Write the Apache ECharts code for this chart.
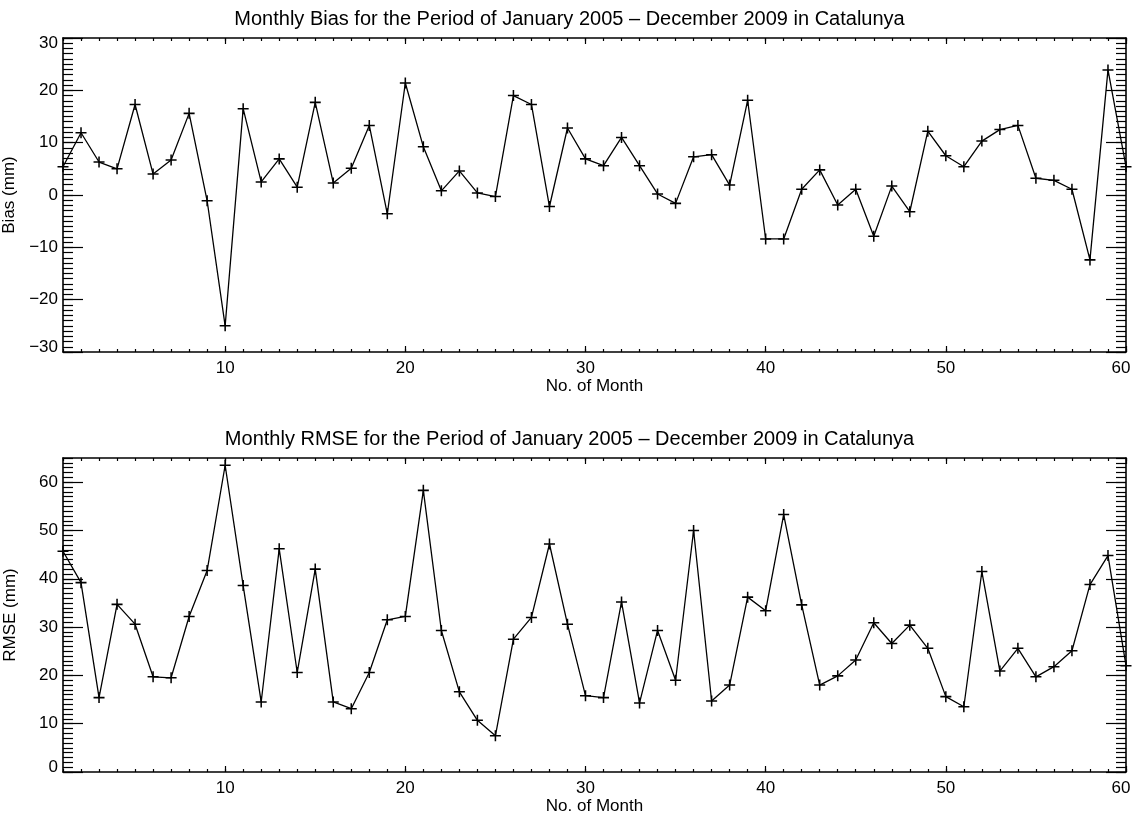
<!DOCTYPE html>
<html><head><meta charset="utf-8">
<script src="https://cdn.jsdelivr.net/npm/echarts@6/dist/echarts.min.js"></script>
<style>html,body{margin:0;padding:0;background:#fff}#c{width:1139px;height:817px}</style>
</head><body><div id="c"></div>
<script>
const months = [1,2,3,4,5,6,7,8,9,10,11,12,13,14,15,16,17,18,19,20,21,22,23,24,25,26,27,28,29,30,31,32,33,34,35,36,37,38,39,40,41,42,43,44,45,46,47,48,49,50,51,52,53,54,55,56,57,58,59,60];
const bias = [5.4,11.9,6.3,5.0,17.3,4.0,6.7,15.6,-1.1,-25.0,16.5,2.5,6.9,1.5,17.7,2.3,5.1,13.3,-3.6,21.4,9.2,0.8,4.6,0.4,-0.3,19.0,17.3,-2.2,12.8,6.9,5.6,11.0,5.6,0.2,-1.6,7.3,7.7,1.9,18.1,-8.4,-8.4,1.1,4.8,-1.9,1.1,-7.9,1.7,-3.2,12.2,7.5,5.4,10.3,12.5,13.3,3.2,2.8,1.1,-12.4,23.9,5.4];
const rmse = [45.7,39.2,15.4,34.7,30.6,19.7,19.5,32.2,41.7,63.5,38.6,14.5,46.2,20.6,42.0,14.5,13.1,20.6,31.5,32.2,58.3,29.3,16.6,10.7,7.5,27.5,32.0,47.2,30.6,15.8,15.4,35.2,14.3,29.3,19.0,50.0,14.7,18.0,36.2,33.4,53.3,34.6,18.0,19.9,23.2,30.9,26.6,30.4,25.6,15.6,13.5,41.5,20.9,25.6,19.7,21.8,25.1,38.8,44.8,22.0];
const xMajorTicks = [10,20,30,40,50,60];
const biasMajorTicks = [-30,-20,-10,0,10,20,30];
const rmseMajorTicks = [0,10,20,30,40,50,60];
const titles = ['Monthly Bias for the Period of January 2005 \u2013 December 2009 in Catalunya',
                'Monthly RMSE for the Period of January 2005 \u2013 December 2009 in Catalunya'];
const yNames = ['Bias (mm)', 'RMSE (mm)'];
const xName = 'No. of Month';

function range(a, b) { const r = []; for (let v = a; v <= b; v++) r.push(v); return r; }
const biasMinorTicks = range(-30, 30);
const rmseMinorTicks = range(0, 65);

const FONT = '"Liberation Sans", Arial, Helvetica, sans-serif';
const BLACK = '#000';
const FS = 17;
const lineSt = { color: BLACK, width: 1.2 };
const txt = { color: BLACK, fontSize: FS, fontFamily: FONT };

const grids = [
  { left: 63, top: 38, width: 1063, height: 314, containLabel: false, outerBoundsMode: 'none' },
  { left: 63, top: 458, width: 1063, height: 314, containLabel: false, outerBoundsMode: 'none' }
];

const xAxes = [], yAxes = [];
function addX(g) {
  const base = { gridIndex: g, type: 'value', min: 1, max: 60, splitLine: { show: false } };
  const mainIdx = xAxes.length;
  xAxes.push(Object.assign({}, base, {
    position: 'bottom',
    axisLine: { show: true, onZero: false, lineStyle: { color: BLACK, width: 1.6 } },
    axisTick: { show: true, inside: true, length: 6, customValues: xMajorTicks, lineStyle: lineSt },
    axisLabel: { show: true, customValues: xMajorTicks, margin: 8, color: BLACK, fontSize: FS, fontFamily: FONT,
      formatter: v => v === 60 ? '{r|60}' : String(v),
      rich: { r: { padding: [0, 10, 0, 0], fontSize: FS, fontFamily: FONT, color: BLACK } } },
    name: xName, nameLocation: 'middle', nameGap: 26, nameTextStyle: txt
  }));
  xAxes.push(Object.assign({}, base, {
    position: 'bottom', axisLine: { show: false, onZero: false },
    axisTick: { show: true, inside: true, length: 3, customValues: months, lineStyle: lineSt },
    axisLabel: { show: false }
  }));
  xAxes.push(Object.assign({}, base, {
    position: 'top', axisLine: { show: true, onZero: false, lineStyle: { color: BLACK, width: 1.6 } },
    axisTick: { show: true, inside: true, length: 6, customValues: xMajorTicks, lineStyle: lineSt },
    axisLabel: { show: false }
  }));
  xAxes.push(Object.assign({}, base, {
    position: 'top', axisLine: { show: false, onZero: false },
    axisTick: { show: true, inside: true, length: 3, customValues: months, lineStyle: lineSt },
    axisLabel: { show: false }
  }));
  return mainIdx;
}
function addY(g, min, max, majors, minors, name, edgeTop, edgeBottom) {
  const base = { gridIndex: g, type: 'value', min: min, max: max, splitLine: { show: false } };
  const mainIdx = yAxes.length;
  yAxes.push(Object.assign({}, base, {
    position: 'left',
    axisLine: { show: true, onZero: false, lineStyle: { color: BLACK, width: 1.6 } },
    axisTick: { show: true, inside: true, length: 20, customValues: majors, lineStyle: lineSt },
    axisLabel: { show: true, customValues: majors, margin: 5, color: BLACK, fontSize: FS, fontFamily: FONT,
      formatter: v => {
        const s = String(v).replace('-', '\u2212');
        if (v === edgeTop) return '{t|' + s + '}';
        if (v === edgeBottom) return '{b|' + s + '}';
        return s;
      },
      rich: {
        t: { padding: [10, 0, 0, 0], fontSize: FS, fontFamily: FONT, color: BLACK },
        b: { padding: [0, 0, 10, 0], fontSize: FS, fontFamily: FONT, color: BLACK }
      } },
    name: name, nameLocation: 'middle', nameGap: 44, nameTextStyle: txt
  }));
  yAxes.push(Object.assign({}, base, {
    position: 'left', axisLine: { show: false, onZero: false },
    axisTick: { show: true, inside: true, length: 10, customValues: minors, lineStyle: lineSt },
    axisLabel: { show: false }
  }));
  yAxes.push(Object.assign({}, base, {
    position: 'right', axisLine: { show: true, onZero: false, lineStyle: { color: BLACK, width: 1.6 } },
    axisTick: { show: true, inside: true, length: 20, customValues: majors, lineStyle: lineSt },
    axisLabel: { show: false }
  }));
  yAxes.push(Object.assign({}, base, {
    position: 'right', axisLine: { show: false, onZero: false },
    axisTick: { show: true, inside: true, length: 10, customValues: minors, lineStyle: lineSt },
    axisLabel: { show: false }
  }));
  return mainIdx;
}

const x0 = addX(0), y0 = addY(0, -30, 30, biasMajorTicks, biasMinorTicks, yNames[0], 30, -30);
const x1 = addX(1), y1 = addY(1, 0, 65, rmseMajorTicks, rmseMinorTicks, yNames[1], null, 0);

const PLUS = 'path://M4.3,0 H5.7 V4.3 H10 V5.7 H5.7 V10 H4.3 V5.7 H0 V4.3 H4.3 Z';
function series(xi, yi, vals) {
  return {
    type: 'line', xAxisIndex: xi, yAxisIndex: yi,
    data: months.map((m, i) => [m, vals[i]]),
    symbol: PLUS, symbolSize: 11, showAllSymbol: true,
    lineStyle: { color: BLACK, width: 1.3 },
    itemStyle: { color: BLACK },
    animation: false, silent: true
  };
}

const chart = echarts.init(document.getElementById('c'), null, { renderer: 'canvas' });
chart.setOption({
  backgroundColor: '#fff',
  animation: false,
  title: [
    { text: titles[0], left: 'center', top: 4, textStyle: { color: BLACK, fontSize: 20, fontWeight: 'normal', fontFamily: FONT } },
    { text: titles[1], left: 'center', top: 424, textStyle: { color: BLACK, fontSize: 20, fontWeight: 'normal', fontFamily: FONT } }
  ],
  grid: grids,
  xAxis: xAxes,
  yAxis: yAxes,
  series: [series(x0, y0, bias), series(x1, y1, rmse)]
});
</script>
</body></html>
